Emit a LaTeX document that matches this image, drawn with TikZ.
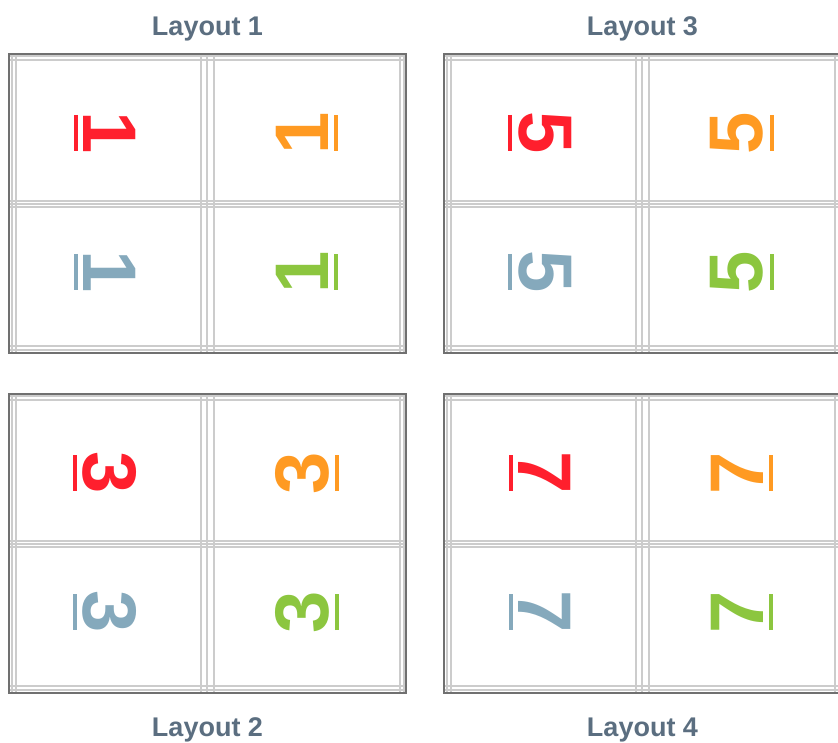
\documentclass[tikz,border=0pt]{standalone}
\usepackage{fontspec}
\setmainfont{Liberation Sans}
\definecolor{cred}{HTML}{FF1F2D}
\definecolor{corange}{HTML}{FF9A22}
\definecolor{cblue}{HTML}{85A9BC}
\definecolor{cgreen}{HTML}{8CC63F}
\definecolor{clab}{HTML}{5B6E80}
\definecolor{cdark}{HTML}{707070}
\definecolor{clight}{HTML}{CCCCCC}
\newcommand\udig[1]{\setbox0\hbox{#1}\vtop{\offinterlineskip\copy0\kern6pt\hbox to\wd0{\hss\vrule width 36pt height 4pt\hss}}}
\tikzset{
  lightline/.style={draw=clight, line width=1.4pt},
  darkframe/.style={draw=cdark, line width=2pt},
  digl/.style={inner sep=0pt, rotate=-90, font=\fontsize{76}{76}\selectfont\bfseries},
  digr/.style={inner sep=0pt, rotate=90, font=\fontsize{76}{76}\selectfont\bfseries},
  lab/.style={anchor=base, inner sep=0pt, text=clab, font=\fontsize{27}{27}\selectfont\bfseries}
}
\begin{document}
\begin{tikzpicture}[x=1pt,y=-1pt]
\useasboundingbox (0,0) rectangle (838,743);
\clip (0,0) rectangle (838,743);
\foreach \px/\py/\d/\lab/\ly/\id in {9/54/1/Layout 1/36/a, 9/394/3/Layout 2/736/b, 444/54/5/Layout 3/36/c, 444/394/7/Layout 4/736/d}{
  \begin{scope}[shift={(\px,\py)}]
    \foreach \v in {3,7,192,198,205,391,395} \draw[lightline] (\v,0) -- (\v,299);
    \foreach \h in {2,6,147,150,153,292,296} \draw[lightline] (0,\h) -- (397,\h);
    \draw[darkframe] (0,0) rectangle (397,299);
    \node[digl, text=cred]    (tl\id) at (96,79)  {\udig{\d}};
    \node[digr, text=corange] (tr\id) at (298,79) {\udig{\d}};
    \node[digl, text=cblue]   (bl\id) at (96,218) {\udig{\d}};
    \node[digr, text=cgreen]  (br\id) at (298,218){\udig{\d}};
  \end{scope}
  \node[lab] (lab\id) at (\px+198.5,\ly) {\lab};
}
\end{tikzpicture}
\end{document}
